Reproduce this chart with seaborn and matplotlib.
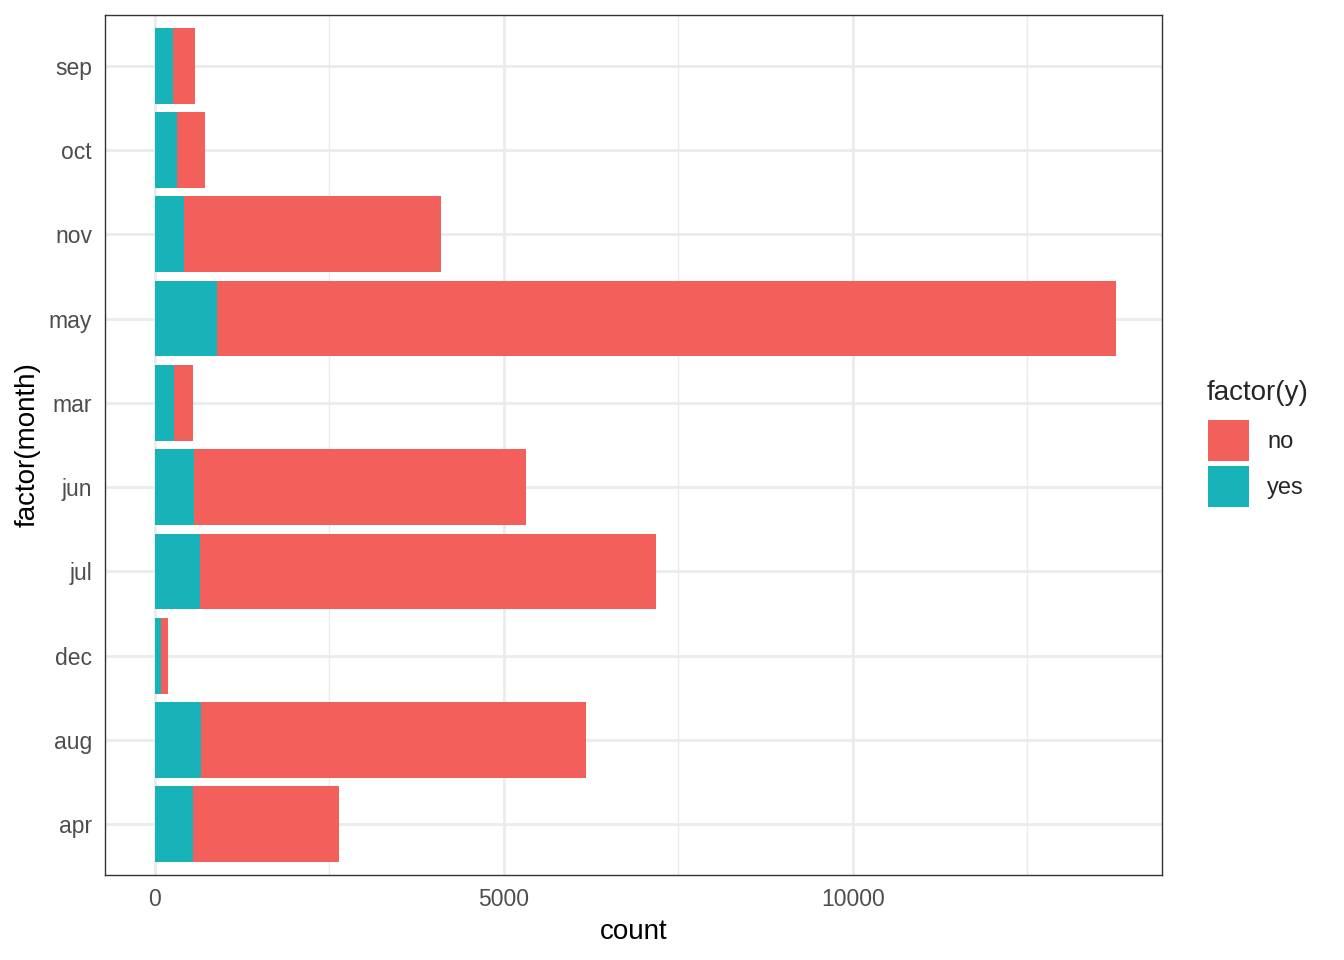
"""Stacked horizontal bar chart of term-deposit outcome by month."""

import matplotlib
matplotlib.use("Agg")
import matplotlib.pyplot as plt
import pandas as pd
import seaborn as sns
from matplotlib.patches import Patch

# categories from top to bottom as shown
months = ["sep", "oct", "nov", "may", "mar", "jun", "jul", "dec", "aug", "apr"]
yes_counts = [256, 315, 416, 886, 276, 559, 649, 89, 655, 539]
no_counts = [314, 403, 3685, 12883, 270, 4759, 6525, 93, 5523, 2093]

RED = "#F35F5A"
TEAL = "#18B3B8"

df = pd.DataFrame({"month": months, "yes": yes_counts, "no": no_counts})
df["total"] = df["yes"] + df["no"]

sns.set_style("white")
plt.rcParams["font.family"] = ["Liberation Sans", "DejaVu Sans"]

fig = plt.figure(figsize=(13.44, 9.6), dpi=100)
ax = fig.add_axes([105 / 1344, 85 / 960, (1162 - 105) / 1344, (945 - 85) / 960])

# "no" is stacked on top of "yes", so the full bar is the total
sns.barplot(data=df, x="total", y="month", order=months, color=RED,
            width=0.9, saturation=1, linewidth=0, ax=ax, zorder=3)
sns.barplot(data=df, x="yes", y="month", order=months, color=TEAL,
            width=0.9, saturation=1, linewidth=0, ax=ax, zorder=4)

ax.set_xlim(-716, 14427)
ax.set_ylim(len(months) - 0.4, -0.6)

ax.set_xticks([0, 5000, 10000])
ax.set_xticks([2500, 7500, 12500], minor=True)
ax.grid(which="major", color="#EBEBEB", linewidth=2.0, zorder=0)
ax.grid(which="minor", axis="x", color="#EBEBEB", linewidth=1.0, zorder=0)
ax.set_axisbelow(True)

for side in ax.spines.values():
    side.set_color("#333333")
    side.set_linewidth(1.0)

ax.tick_params(axis="both", which="major", length=5.3, width=1.0,
               color="#333333", labelcolor="#4D4D4D", labelsize=16.5, pad=4)
ax.tick_params(axis="both", which="minor", length=0)

ax.set_xlabel("count", fontsize=20, color="black", labelpad=6)
ax.set_ylabel("factor(month)", fontsize=20, color="black", labelpad=6)

# legend: title drawn separately to match ggplot spacing
fig.text(1207 / 1344, 1 - 393 / 960, "factor(y)", fontsize=20,
         ha="left", va="center")
handles = [Patch(facecolor=RED, edgecolor="none", label="no"),
           Patch(facecolor=TEAL, edgecolor="none", label="yes")]
leg = fig.legend(handles=handles, loc="upper left",
                 bbox_to_anchor=(1201 / 1344, 1 - 413 / 960), frameon=False,
                 fontsize=17, handlelength=1.75, handleheight=2.3,
                 handletextpad=0.75, labelspacing=0.2, borderpad=0.3,
                 borderaxespad=0)

fig.savefig("out.png", dpi=100, facecolor="white")
